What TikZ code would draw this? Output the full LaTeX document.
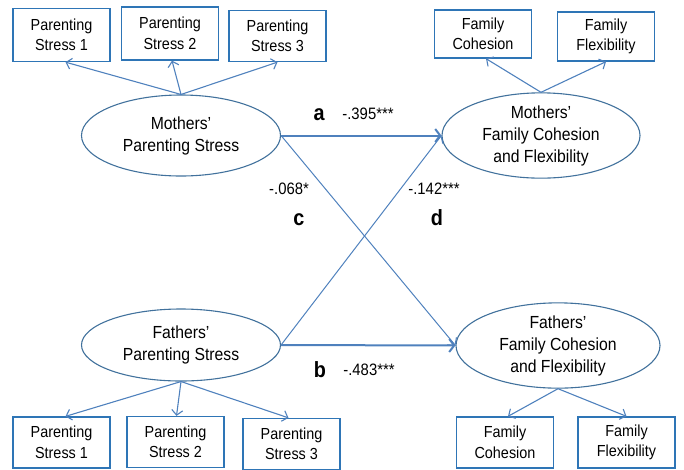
\documentclass[tikz,border=0pt]{standalone}
\usepackage{fontspec}
\setmainfont{Liberation Sans}[FakeStretch=0.9]
\usetikzlibrary{shapes.geometric,arrows.meta}
\definecolor{lineblue}{RGB}{79,129,189}
\definecolor{boxblue}{RGB}{46,117,182}
\definecolor{ovalblue}{RGB}{65,113,156}

\begin{document}
\begin{tikzpicture}[x=1pt,y=-1pt,
    indic/.style={draw=boxblue,line width=1.3pt,minimum width=97pt,
        minimum height=51pt,inner sep=0pt,align=center,
        font=\fontsize{16}{20.5}\selectfont},
    latent/.style={ellipse,draw=ovalblue,line width=1.1pt,inner sep=0pt,
        align=center,font=\fontsize{17.5}{22}\selectfont},
    loading/.style={draw=lineblue,line width=1.1pt,
        -{Straight Barb[length=5pt,width=11pt]}},
    mainpath/.style={draw=lineblue,line width=2pt,
        -{Straight Barb[length=5pt,width=13pt]}},
    crosspath/.style={draw=lineblue,line width=1pt,
        -{Straight Barb[length=5pt,width=12pt]}},
    coef/.style={font=\fontsize{16.5}{18}\selectfont},
    pletter/.style={font=\fontsize{22}{24}\selectfont\bfseries}]
    \useasboundingbox (0,0) rectangle (684,469);

    % latent variables
    \node[latent,minimum width=199pt,minimum height=81pt] (mps) at (181,135.5)
        {Mothers'\\Parenting Stress};
    \node[latent,minimum width=199pt,minimum height=72pt] (fps) at (181,345)
        {Fathers'\\Parenting Stress};
    \node[latent,minimum width=198pt,minimum height=81pt] (mfc) at (541,135.5)
        {Mothers'\\Family Cohesion\\and Flexibility};
    \node[latent,minimum width=204pt,minimum height=71pt] (ffc) at (558,345.5)
        {Fathers'\\Family Cohesion\\and Flexibility};

    % indicators, top row
    \node[indic,minimum height=53pt] (mps1) at (61.5,35) {Parenting\\Stress 1};
    \node[indic,minimum height=53pt] (mps2) at (170,33.5) {Parenting\\Stress 2};
    \node[indic,minimum height=51pt] (mps3) at (277.5,36) {Parenting\\Stress 3};
    \node[indic,minimum height=48pt] (mcoh) at (483,34) {Family\\Cohesion};
    \node[indic,minimum height=49pt] (mflx) at (606,36.5) {Family\\Flexibility};

    % indicators, bottom row
    \node[indic] (fps1) at (61.5,442.5) {Parenting\\Stress 1};
    \node[indic] (fps2) at (175.5,442) {Parenting\\Stress 2};
    \node[indic] (fps3) at (291.5,444) {Parenting\\Stress 3};
    \node[indic] (fcoh) at (505,442.5) {Family\\Cohesion};
    \node[indic] (fflx) at (626.5,442.5) {Family\\Flexibility};

    % loadings
    \draw[loading] (mps.north) -- ([xshift=4pt]mps1.south);
    \draw[loading] (mps.north) -- ([xshift=2pt]mps2.south);
    \draw[loading] (mps.north) -- (mps3.south);
    \draw[loading] (mfc.north) -- ([xshift=3pt]mcoh.south);
    \draw[loading] (mfc.north) -- (mflx.south);
    \draw[loading] (fps.south) -- ([xshift=4pt]fps1.north);
    \draw[loading] (fps.south) -- ([xshift=1pt]fps2.north);
    \draw[loading] (fps.south) -- ([xshift=-3pt]fps3.north);
    \draw[loading] (ffc.south) -- ([xshift=3pt]fcoh.north);
    \draw[loading] (ffc.south) -- (fflx.north);

    % structural paths
    \draw[mainpath] (mps.east) -- (mfc.west);
    \draw[mainpath] (fps.east) -- (ffc.west);
    \draw[crosspath] (mps.east) -- (ffc.west);
    \draw[crosspath] (fps.east) -- (mfc.west);

    % coefficients
    \node[pletter] (la) at (319,115) {a};
    \node[coef] (ca) at (368,114) {-.395***};
    \node[coef] (cc) at (289,189) {-.068*};
    \node[pletter] (lc) at (299,220) {c};
    \node[coef] (cd) at (434,189) {-.142***};
    \node[pletter] (ld) at (437,218) {d};
    \node[pletter] (lb) at (320,370) {b};
    \node[coef] (cb) at (369,370) {-.483***};
\end{tikzpicture}
\end{document}
